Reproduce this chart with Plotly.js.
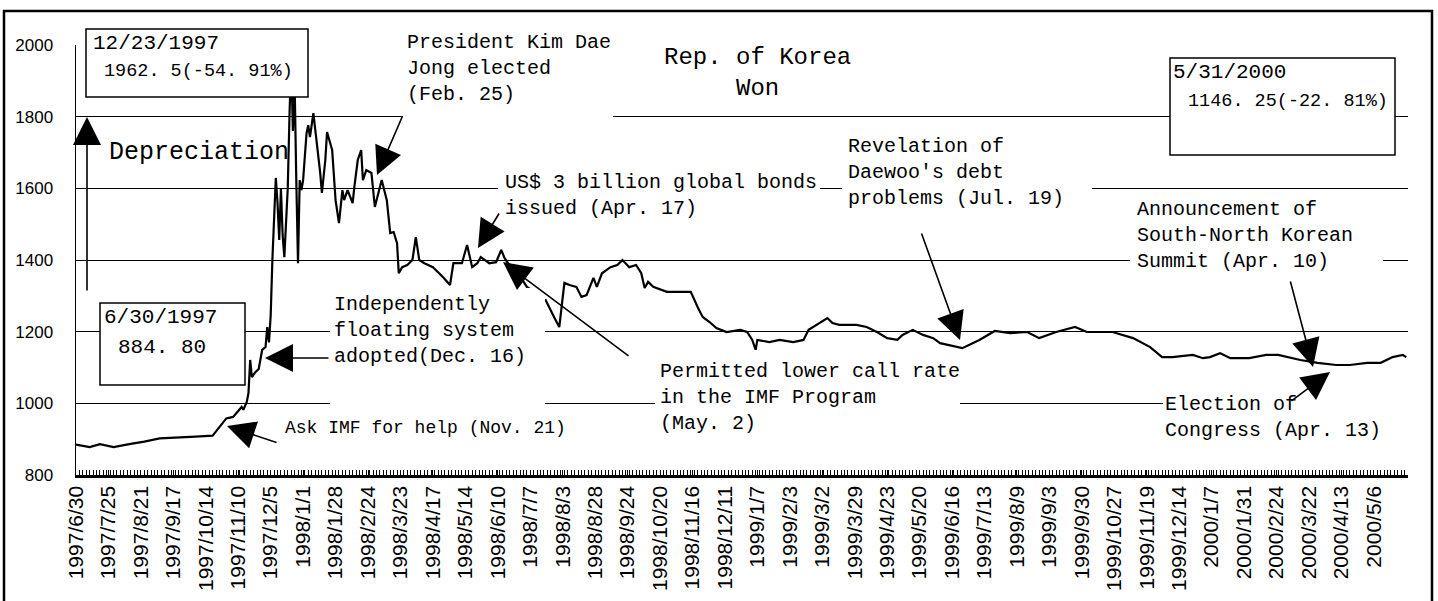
<!DOCTYPE html>
<html><head><meta charset="utf-8">
<script src="https://cdn.plot.ly/plotly-3.0.1.min.js"></script>
<style>html,body{margin:0;padding:0;background:#fff}</style>
</head><body>
<div id="chart" style="width:1438px;height:601px"></div>
<script>
// Trading-day index (0 = 1997/6/30) and KRW per US$
const dayIndex = [0,8,14,22,32,40,49,58,70,80,85,88,92,94,97,98,100,101,102,103,105,107,108,109,111,112,113,114,115,116,117,118,119,120,121,122,123,124,125,126,127,128,129,130,131,132,133,134,135,136,137,139,140,141,143,144,146,147,150,152,154,156,157,159,162,163,165,167,168,170,173,175,177,179,182,184,186,188,189,191,194,197,199,201,204,209,215,219,221,226,229,232,235,237,242,246,249,251,253,258,264,267,272,275,280,283,286,289,293,296,299,303,305,308,313,317,320,324,328,331,333,335,338,346,354,360,364,367,371,375,381,389,393,396,398,399,406,412,420,426,429,434,440,443,447,457,463,469,475,481,484,490,496,502,506,519,529,538,547,557,564,574,585,592,607,619,629,636,642,654,660,664,670,676,687,697,704,717,727,738,746,756,764,771,777,779];
const wonRate = [885,878,886,878,887,893,902,905,907,910,940,958,962,973,990,982,1004,1029,1121,1073,1087,1096,1121,1149,1157,1213,1170,1245,1400,1531,1629,1560,1456,1600,1470,1408,1520,1600,1800,1962,1760,1900,1623,1391,1623,1595,1623,1700,1754,1776,1743,1810,1771,1726,1643,1587,1679,1757,1707,1567,1503,1595,1567,1595,1559,1604,1679,1707,1623,1651,1643,1548,1587,1623,1567,1475,1478,1447,1363,1380,1386,1400,1464,1400,1391,1380,1352,1330,1391,1391,1442,1380,1391,1408,1391,1394,1428,1405,1391,1370,1325,1316,1290,1288,1240,1213,1336,1330,1325,1297,1302,1350,1325,1363,1380,1386,1400,1380,1386,1363,1322,1339,1325,1311,1311,1311,1269,1241,1227,1210,1199,1205,1199,1177,1149,1177,1171,1177,1171,1177,1205,1219,1238,1224,1219,1219,1213,1199,1182,1177,1191,1205,1191,1182,1168,1154,1177,1202,1196,1199,1182,1199,1213,1199,1199,1182,1157,1129,1129,1135,1126,1129,1140,1126,1126,1135,1135,1121,1113,1107,1107,1113,1113,1129,1135,1129];
const tickLabels = ['1997/6/30','1997/7/25','1997/8/21','1997/9/17','1997/10/14','1997/11/10','1997/12/5','1998/1/1','1998/1/28','1998/2/24','1998/3/23','1998/4/17','1998/5/14','1998/6/10','1998/7/7','1998/8/3','1998/8/28','1998/9/24','1998/10/20','1998/11/16','1998/12/11','1999/1/7','1999/2/3','1999/3/2','1999/3/29','1999/4/23','1999/5/20','1999/6/16','1999/7/13','1999/8/9','1999/9/3','1999/9/30','1999/10/27','1999/11/19','1999/12/14','2000/1/7','2000/1/31','2000/2/24','2000/3/22','2000/4/13','2000/5/6'];
const daysPerTick = 19;

const MONO = 'Liberation Mono, DejaVu Sans Mono, monospace';
const L=76,R=1408,T=45,B=475;
const px = x => (x-L)/(R-L);
const py = y => (B-y)/(B-T);

function box(x0,y0,x1,y1,border){
  return {type:'rect',xref:'paper',yref:'paper',x0:px(x0),x1:px(x1),y0:py(y1),y1:py(y0),
    fillcolor:'white',line:{color:border?'black':'white',width:border?1.5:0},layer:'above'};
}
function txt(text,x,y,size,extra){
  return Object.assign({xref:'paper',yref:'paper',x:px(x),y:py(y),xanchor:'left',yanchor:'top',align:'left',
    showarrow:false,text:text,borderpad:0,font:{family:MONO,size:size,color:'black'}},extra||{});
}
function arrow(tx,ty,hx,hy){
  return {xref:'paper',yref:'paper',x:px(hx),y:py(hy),ax:tx-hx,ay:ty-hy,text:'',showarrow:true,
    arrowhead:2,arrowsize:3.5,arrowwidth:1.6,arrowcolor:'black',standoff:0,startstandoff:0};
}

const trace = {x:dayIndex,y:wonRate,type:'scatter',mode:'lines',line:{color:'black',width:2.2},hoverinfo:'skip',showlegend:false};

const shapes = [
  box(403,30,613,122,false),
  box(498,165,820,230,false),
  box(842,135,1092,222,false),
  box(1130,195,1383,280,false),
  box(330,288,545,410,false),
  box(655,350,960,442,false),
  box(1163,392,1412,445,false),
  box(86,29,308,97,true),
  box(100,303,245,385,true),
  box(1170,58,1395,155,true),
  {type:'rect',xref:'paper',yref:'paper',x0:px(4),x1:px(1432),y0:py(640),y1:py(11),line:{color:'black',width:2.5},fillcolor:'rgba(0,0,0,0)',layer:'above'}
];

const annotations = [
  txt('Rep. of Korea<br>Won',757,43,24,{xanchor:'center',align:'center'}),
  txt('12/23/1997',92,31,21),
  txt('1962. 5(-54. 91%)',103,60,18.5),
  txt('President Kim Dae<br>Jong elected<br>(Feb. 25)',406,30,20),
  txt('Depreciation',108,152,25,{yanchor:'middle'}),
  txt('6/30/1997',103,305,21),
  txt('884. 80',117,335,21),
  txt('Independently<br>floating system<br>adopted(Dec. 16)',333,292,20),
  txt('Ask IMF for help (Nov. 21)',284,428,18,{yanchor:'middle'}),
  txt('US$ 3 billion global bonds<br>issued (Apr. 17)',504,170,20),
  txt('Permitted lower call rate<br>in the IMF Program<br>(May. 2)',659,359,20),
  txt('Revelation of<br>Daewoo\'s debt<br>problems (Jul. 19)',847,134,20),
  txt('5/31/2000',1172,60,21),
  txt('1146. 25(-22. 81%)',1187,90,18.5),
  txt('Announcement of<br>South-North Korean<br>Summit (Apr. 10)',1136,197,20),
  txt('Election of<br>Congress (Apr. 13)',1164,392,20),
  arrow(87,292,87,117),
  arrow(403,115,377,175),
  arrow(278,443,227,426),
  arrow(330,358,265,358),
  arrow(500,212,478,248),
  arrow(630,357,503,262),
  arrow(921,232,960,340),
  arrow(1290,280,1313,367),
  arrow(1290,402,1330,372)
];

const layout = {
  width:1438,height:601,
  margin:{l:L,r:1438-R,t:T,b:601-B},
  paper_bgcolor:'white',plot_bgcolor:'white',
  showlegend:false,
  xaxis:{range:[0,780],tickmode:'array',tickvals:tickLabels.map((_,i)=>i*daysPerTick),ticktext:tickLabels,
    tickangle:-90,tickfont:{family:'Liberation Sans, Arial, sans-serif',size:21,color:'black'},
    ticks:'inside',ticklen:5,tickwidth:1,tickcolor:'black',ticklabelstandoff:0,
    showline:true,linecolor:'black',linewidth:2.5,showgrid:false,zeroline:false,
    minor:{tickmode:'linear',tick0:0,dtick:2,ticks:'inside',ticklen:5,tickwidth:1,tickcolor:'black',showgrid:false}},
  yaxis:{range:[800,2000],tickmode:'linear',tick0:800,dtick:200,ticks:'',ticklabelstandoff:18,
    tickfont:{family:'Liberation Sans Narrow, Liberation Sans, Arial, sans-serif',size:17,color:'black'},
    showline:true,linecolor:'black',linewidth:1.5,showgrid:true,gridcolor:'black',gridwidth:1,zeroline:false},
  shapes:shapes,
  annotations:annotations
};

Plotly.newPlot('chart',[trace],layout,{staticPlot:true,displayModeBar:false});
</script>
</body></html>
